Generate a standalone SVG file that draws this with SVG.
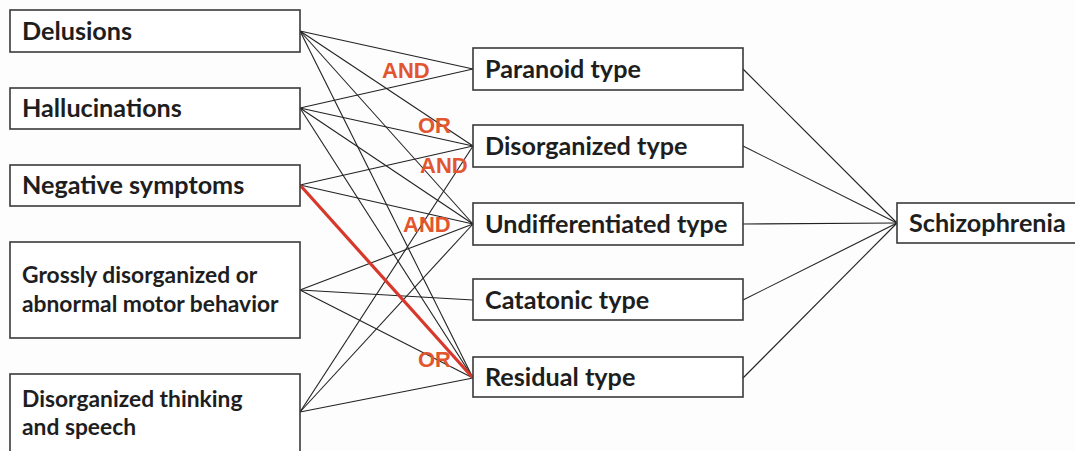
<svg xmlns="http://www.w3.org/2000/svg" width="1075" height="451" viewBox="0 0 1075 451">
<style>
.box{fill:#fff;stroke:#3a3a3a;stroke-width:1.6}
.t{font-family:Lato,"Liberation Sans",sans-serif;font-weight:bold;font-size:25.2px;fill:#1e1e1e}
.s{font-size:22.8px}
.c{stroke:#222;stroke-width:1.1;fill:none}
.red{stroke:#d8372b;stroke-width:3.2;fill:none}
.lab{font-family:"Liberation Sans",Arial,sans-serif;font-weight:bold;font-size:22px;fill:#e2562f}
</style>
<rect width="1075" height="451" fill="#fdfdfd"/>
<g id="connectors">
<line class="c" x1="300" y1="31" x2="473" y2="69"/>
<line class="c" x1="300" y1="31" x2="473" y2="146"/>
<line class="c" x1="300" y1="31" x2="473" y2="224"/>
<line class="c" x1="300" y1="31" x2="473" y2="378"/>
<line class="c" x1="300" y1="108" x2="473" y2="69"/>
<line class="c" x1="300" y1="108" x2="473" y2="146"/>
<line class="c" x1="300" y1="108" x2="473" y2="224"/>
<line class="c" x1="300" y1="108" x2="473" y2="378"/>
<line class="c" x1="300" y1="185" x2="473" y2="146"/>
<line class="c" x1="300" y1="185" x2="473" y2="224"/>
<line class="c" x1="300" y1="290" x2="473" y2="224"/>
<line class="c" x1="300" y1="290" x2="473" y2="300"/>
<line class="c" x1="300" y1="290" x2="473" y2="378"/>
<line class="c" x1="300" y1="412" x2="473" y2="146"/>
<line class="c" x1="300" y1="412" x2="473" y2="224"/>
<line class="c" x1="300" y1="412" x2="473" y2="378"/>
<line class="red" x1="300" y1="185" x2="473" y2="378"/>
<line class="c" x1="743" y1="69" x2="897" y2="223"/>
<line class="c" x1="743" y1="146" x2="897" y2="223"/>
<line class="c" x1="743" y1="224" x2="897" y2="223"/>
<line class="c" x1="743" y1="300" x2="897" y2="223"/>
<line class="c" x1="743" y1="378" x2="897" y2="223"/>
</g>
<g id="labels">
<text class="lab" x="382" y="78">AND</text>
<text class="lab" x="418" y="133">OR</text>
<text class="lab" x="420" y="173">AND</text>
<text class="lab" x="403" y="232">AND</text>
<text class="lab" x="418" y="367">OR</text>
</g>
<g id="delusions"><rect class="box" x="10" y="10" width="290" height="42"/><text class="t" x="22" y="40">Delusions</text></g>
<g id="hallucinations"><rect class="box" x="10" y="88" width="290" height="41"/><text class="t" x="22" y="117">Hallucinations</text></g>
<g id="negative"><rect class="box" x="10" y="165" width="290" height="41"/><text class="t" x="22" y="194">Negative symptoms</text></g>
<g id="grossly"><rect class="box" x="10" y="242" width="290" height="96"/><text class="t s" x="22" y="283">Grossly disorganized or</text><text class="t s" x="22" y="312">abnormal motor behavior</text></g>
<g id="thinking"><rect class="box" x="10" y="374" width="290" height="90"/><text class="t s" x="22" y="407">Disorganized thinking</text><text class="t s" x="22" y="435">and speech</text></g>
<g id="paranoid"><rect class="box" x="473" y="48" width="270" height="42"/><text class="t" x="485" y="78">Paranoid type</text></g>
<g id="disorganized"><rect class="box" x="473" y="125" width="270" height="42"/><text class="t" x="485" y="155">Disorganized type</text></g>
<g id="undifferentiated"><rect class="box" x="473" y="203" width="270" height="42"/><text class="t" x="485" y="233">Undifferentiated type</text></g>
<g id="catatonic"><rect class="box" x="473" y="279" width="270" height="41"/><text class="t" x="485" y="309">Catatonic type</text></g>
<g id="residual"><rect class="box" x="473" y="357" width="270" height="40"/><text class="t" x="485" y="386">Residual type</text></g>
<g id="schizophrenia"><rect class="box" x="897" y="203" width="190" height="40"/><text class="t" x="909" y="232">Schizophrenia</text></g>
</svg>
